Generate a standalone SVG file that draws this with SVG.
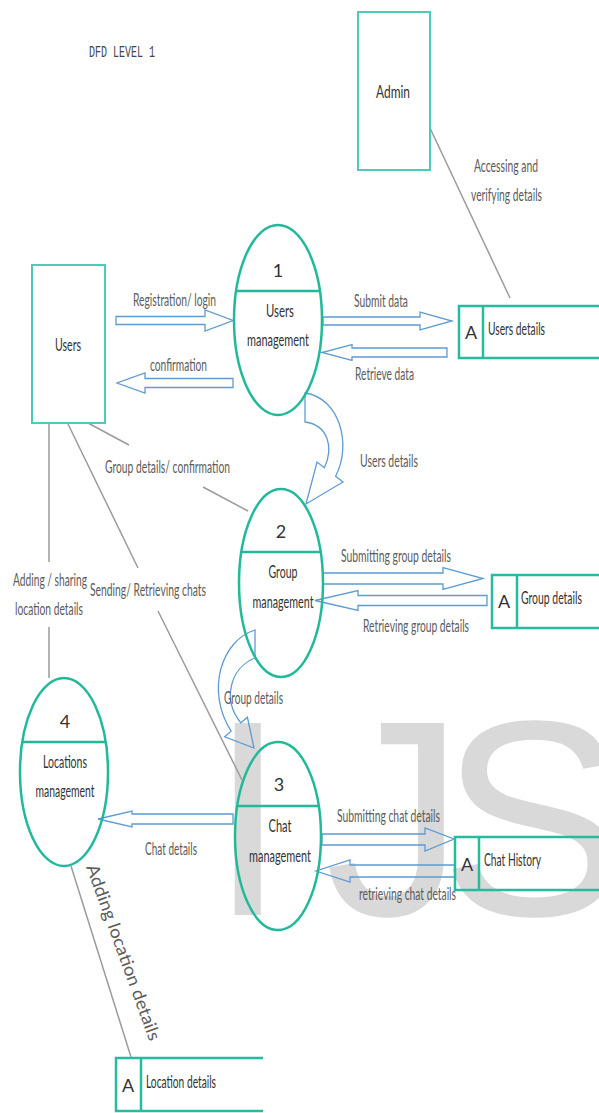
<svg xmlns="http://www.w3.org/2000/svg" width="599" height="1113" viewBox="0 0 599 1113">
<style>
.wm{font-family:"Liberation Sans",Arial,sans-serif;font-size:279px;fill:#d9d9d9}
.box{fill:none;stroke:#4fcab8;stroke-width:2}
.proc{fill:none;stroke:#22b99b;stroke-width:2.5}
.store{fill:none;stroke:#25bb9e;stroke-width:2.5}
.flow{fill:none;stroke:#5e9bd3;stroke-width:1.3;stroke-linejoin:miter}
.line{fill:none;stroke:#9b9b9b;stroke-width:1.5}
.t{font-family:Lato,"Liberation Sans",sans-serif;font-size:18px;fill:#333}
.l{font-family:Lato,"Liberation Sans",sans-serif;font-size:17.5px;fill:#5c5c5c}
.c{text-anchor:middle}
</style>
<rect width="599" height="1113" fill="#ffffff"/>
<text class="wm" x="209 325 440" y="915">IJS</text>
<text x="89" y="57" font-family="Liberation Mono,monospace" font-size="16" fill="#444" textLength="66" lengthAdjust="spacingAndGlyphs">DFD LEVEL 1</text>

<g id="connectors">
  <path class="line" d="M430,128 L510,298"/>
  <path class="line" d="M88,423 L129,445 M203,487 L248,511"/>
  <path class="line" d="M68,424 L138,568 M158,611 L242,780"/>
  <path class="line" d="M49,423 L49,562 M49,627 L49,678"/>
  <path class="line" d="M71,866 L131,1057"/>
  <path class="flow" d="M116,316.5 L205,316.5 L205,310 L233,320.5 L205,331 L205,324.5 L116,324.5 Z"/>
  <path class="flow" d="M233,378.5 L145,378.5 L145,373 L117,383 L145,393 L145,387.5 L233,387.5 Z"/>
  <path class="flow" d="M323,317 L420,317 L420,312 L452,321 L420,330 L420,325 L323,325 Z"/>
  <path class="flow" d="M447,348 L352,348 L352,344.5 L322,352.5 L352,360.5 L352,357 L447,357 Z"/>
  <path class="flow" d="M323,573 L443,573 L443,567.5 L483,578.5 L443,589.5 L443,584 L323,584 Z"/>
  <path class="flow" d="M487,595.5 L358,595.5 L358,590.5 L315,600.5 L358,610.5 L358,605.5 L487,605.5 Z"/>
  <path class="flow" d="M322,834 L425,834 L425,828 L454,839 L425,851 L425,845 L322,845 Z"/>
  <path class="flow" d="M455,865 L350,865 L350,860 L316,871 L350,882 L350,877 L455,877 Z"/>
  <path class="flow" d="M233,814 L132,814 L132,811 L98,819 L132,827 L132,824 L233,824 Z"/>
  <path class="flow" d="M305,393 C340,398 352,445 335.6,476.2 L343,482 L306,504 L317,462 L324.4,467.8 C334,447 328,425 305,422 Z"/>
  <path class="flow" d="M255,630 C222,640 205,690 231.1,731.2 L224.6,736.8 L254,748 L247.4,717.3 L240.9,722.8 C222,700 230,668 255,658 Z"/>
  <text class="l" x="474" y="172" textLength="64" lengthAdjust="spacingAndGlyphs">Accessing and</text>
  <text class="l" x="471" y="201" textLength="71" lengthAdjust="spacingAndGlyphs">verifying details</text>
  <text class="l" x="133" y="306" textLength="83" lengthAdjust="spacingAndGlyphs">Registration/ login</text>
  <text class="l" x="150" y="371" textLength="57" lengthAdjust="spacingAndGlyphs">confirmation</text>
  <text class="l" x="354" y="307" textLength="54" lengthAdjust="spacingAndGlyphs">Submit data</text>
  <text class="l" x="355" y="380" textLength="59" lengthAdjust="spacingAndGlyphs">Retrieve data</text>
  <text class="l" x="360" y="467" textLength="58" lengthAdjust="spacingAndGlyphs">Users details</text>
  <text class="l" x="105" y="473" textLength="125" lengthAdjust="spacingAndGlyphs">Group details/ confirmation</text>
  <text class="l" x="341" y="562" textLength="110" lengthAdjust="spacingAndGlyphs">Submitting group details</text>
  <text class="l" x="363" y="632" textLength="106" lengthAdjust="spacingAndGlyphs">Retrieving group details</text>
  <text class="l" x="13" y="586" textLength="74" lengthAdjust="spacingAndGlyphs">Adding / sharing</text>
  <text class="l" x="15" y="615" textLength="68" lengthAdjust="spacingAndGlyphs">location details</text>
  <text class="l" x="90" y="596" textLength="116" lengthAdjust="spacingAndGlyphs">Sending/ Retrieving chats</text>
  <text class="l" x="224" y="704" textLength="59" lengthAdjust="spacingAndGlyphs">Group details</text>
  <text class="l" x="145" y="855" textLength="52" lengthAdjust="spacingAndGlyphs">Chat details</text>
  <text class="l" x="337" y="822" textLength="103" lengthAdjust="spacingAndGlyphs">Submitting chat details</text>
  <text class="l" x="359" y="900" textLength="97" lengthAdjust="spacingAndGlyphs">retrieving chat details</text>
  <text class="l" x="86" y="867" font-size="16" transform="rotate(70 86 867)" textLength="186" lengthAdjust="spacingAndGlyphs">Adding location details</text>
</g>

<g id="admin">
  <rect class="box" x="358" y="12" width="72" height="158"/>
  <text class="t c" x="393" y="98" textLength="34" lengthAdjust="spacingAndGlyphs">Admin</text>
</g>
<g id="users">
  <rect class="box" x="32" y="265" width="73" height="158"/>
  <text class="t" x="55" y="351" textLength="26" lengthAdjust="spacingAndGlyphs">Users</text>
</g>
<g id="p1">
  <ellipse class="proc" cx="278" cy="320" rx="44" ry="95"/>
  <line class="proc" x1="236" y1="291" x2="320" y2="291"/>
  <text class="t c" x="278" y="277">1</text>
  <text class="t c" x="280" y="317" textLength="28" lengthAdjust="spacingAndGlyphs">Users</text>
  <text class="t c" x="278" y="346" textLength="62" lengthAdjust="spacingAndGlyphs">management</text>
</g>
<g id="p2">
  <ellipse class="proc" cx="281" cy="583" rx="42" ry="94"/>
  <line class="proc" x1="241.3" y1="552" x2="320.7" y2="552"/>
  <text class="t c" x="281" y="538">2</text>
  <text class="t c" x="283" y="578" textLength="29" lengthAdjust="spacingAndGlyphs">Group</text>
  <text class="t c" x="283" y="608" textLength="61" lengthAdjust="spacingAndGlyphs">management</text>
</g>
<g id="p3">
  <ellipse class="proc" cx="278" cy="836" rx="43" ry="94"/>
  <line class="proc" x1="237.2" y1="806" x2="318.8" y2="806"/>
  <text class="t c" x="279" y="791">3</text>
  <text class="t c" x="280" y="832" textLength="23" lengthAdjust="spacingAndGlyphs">Chat</text>
  <text class="t c" x="280" y="862" textLength="62" lengthAdjust="spacingAndGlyphs">management</text>
</g>
<g id="p4">
  <ellipse class="proc" cx="64" cy="772" rx="44" ry="94"/>
  <line class="proc" x1="22.3" y1="742" x2="105.7" y2="742"/>
  <text class="t c" x="65" y="728">4</text>
  <text class="t c" x="65" y="768" textLength="44" lengthAdjust="spacingAndGlyphs">Locations</text>
  <text class="t c" x="65" y="797" textLength="59" lengthAdjust="spacingAndGlyphs">management</text>
</g>
<g id="store-users">
  <path class="store" d="M600,306 L459,306 L459,358 L600,358 M483,306 L483,358"/>
  <text class="t" x="465" y="339" font-size="17">A</text>
  <text class="t" x="488" y="335" textLength="57" lengthAdjust="spacingAndGlyphs">Users details</text>
</g>
<g id="store-group">
  <path class="store" d="M600,575 L492,575 L492,628 L600,628 M517,575 L517,628"/>
  <text class="t" x="498" y="608" font-size="17">A</text>
  <text class="t" x="521" y="604" textLength="61" lengthAdjust="spacingAndGlyphs">Group details</text>
</g>
<g id="store-chat">
  <path class="store" d="M600,837 L455,837 L455,890 L600,890 M479,837 L479,890"/>
  <text class="t" x="461" y="871" font-size="17">A</text>
  <text class="t" x="484" y="866" textLength="57" lengthAdjust="spacingAndGlyphs">Chat History</text>
</g>
<g id="store-location">
  <path class="store" d="M263,1058 L116,1058 L116,1111 L263,1111 M141,1058 L141,1111"/>
  <text class="t" x="122" y="1092" font-size="17">A</text>
  <text class="t" x="146" y="1088" textLength="70" lengthAdjust="spacingAndGlyphs">Location details</text>
</g>
</svg>
